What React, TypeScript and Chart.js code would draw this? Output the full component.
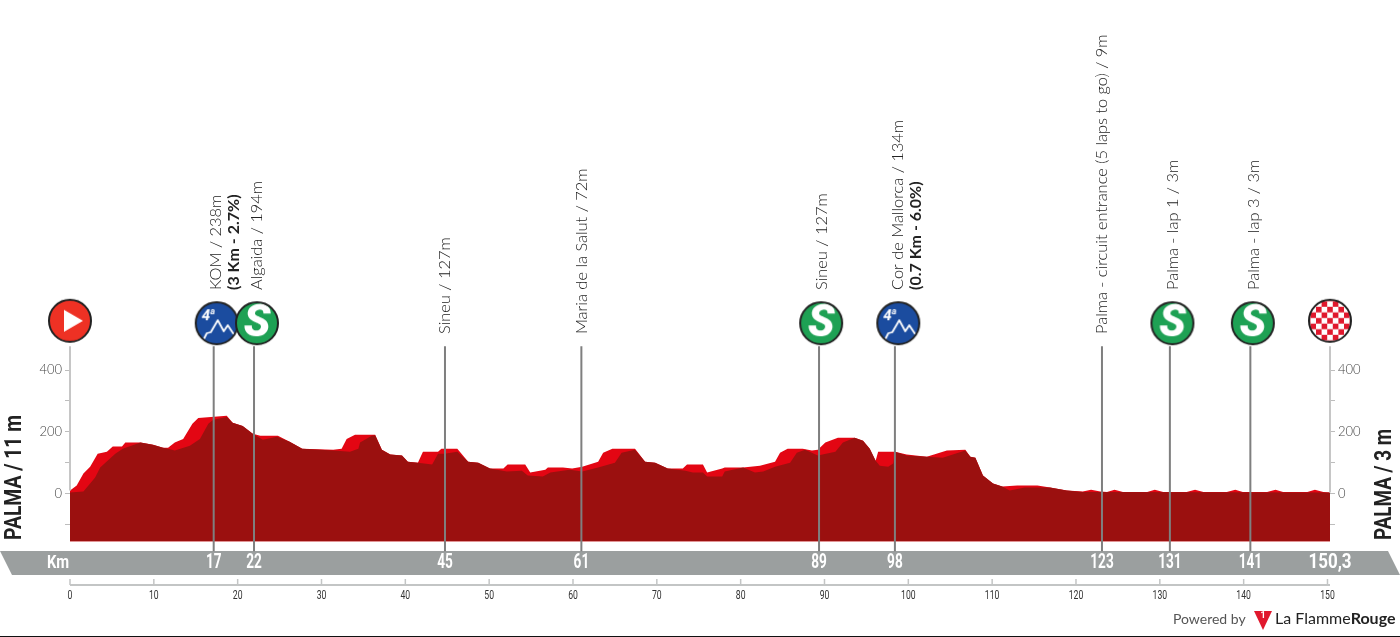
import React, { useEffect, useRef } from "react";
import { Chart, registerables } from "chart.js";

Chart.register(...registerables);

// Bright (front face) profile, km / metres
const brightKm = [0,0.8,1.6,2.4,3.3,4.4,5.1,6.2,6.6,8.4,9.9,11.1,11.7,12.5,13.5,14.6,15.3,18.7,19.4,20.6,21.8,22.7,24.8,26.2,27.7,31.4,32.4,33,34,36.4,37.2,38.2,39.6,40.3,41.5,42.1,43.9,44.3,46.2,47.5,48.7,50.1,51.7,52.2,54.3,54.9,56.7,57,58.8,59.9,61.1,63,63.6,64.7,67.4,68.6,69.8,71.3,73.1,73.6,75.5,76,77.8,78.1,80.3,82.3,84.1,84.7,85.6,87.4,88.5,89.2,90.1,91.6,93.6,94.6,95.4,96.1,96.4,98.4,99.8,102.2,104.6,106.8,107.4,108,108.9,110.1,111.2,113,115.4,116.9,118.9,120.8,121.8,122.9,123.7,124.6,125.6,128.5,129.4,130.4,133.2,134.2,135.2,138,139,139.9,142.8,143.8,144.7,147.6,148.5,149.5,150.3];
const brightM = [10,26,65,87,129,135,152,152,165,165,158,148,148,165,177,226,245,252,229,219,194,187,187,168,145,142,145,177,190,190,142,126,123,103,100,135,135,145,145,103,100,81,81,94,94,68,77,84,84,81,87,103,132,145,145,103,100,81,81,94,94,68,81,84,84,90,103,132,145,145,139,142,165,181,181,171,145,106,135,135,126,119,139,142,119,116,58,32,23,26,26,19,10,6,12,6,5,12,5,5,12,5,5,12,5,5,12,5,5,12,5,5,12,5,3];

// Dark (shadow body) profile, km / metres
const darkKm = [0,1.6,3,3.6,5.4,6.3,8.4,9.9,11.1,11.7,12.5,14.3,15.5,16.5,17.1,18.7,19.4,20.6,21.8,23,24.7,26.2,27.7,31.4,33.4,34.4,34.6,36,36.4,37.2,38.2,39.6,40.3,41.5,43.2,43.9,44.7,46.2,47.5,48.7,50.1,52.1,53.9,54.6,56.4,57.3,59.6,61.1,63,65,65.8,67.4,68.6,69.8,71.3,73.4,74.3,75.5,76,77.8,78.1,80.3,81.7,82.7,84.1,85.9,86.7,87.7,89.2,91.3,92.2,93.6,94.6,95.4,96.1,96.6,97.6,98.2,98.4,99.8,102.2,104.1,106.8,107.4,108,108.9,110.1,111.2,112.1,113.9,116.9,118.9,120.8,150.3];
const darkM = [3,6,52,84,129,145,165,158,148,145,139,155,177,226,239,248,229,219,194,174,184,168,145,139,135,145,165,187,189,142,126,123,103,100,94,129,129,135,103,100,81,71,74,58,55,68,77,71,84,100,132,142,103,100,81,74,68,68,55,55,71,84,68,71,87,100,132,142,123,135,165,181,171,145,106,90,87,97,135,123,119,116,139,119,116,58,32,23,10,19,19,10,5,3];

// Sprint / climb / waypoint poles
const poleKm = [17.14,21.95,44.73,61,89.35,98.4,123.1,131.2,140.8];
const poleLabels = ["17","22","45","61","89","98","123","131","141"];
const poleTexts = ["KOM / 238m","Algaida / 194m","Sineu / 127m","Maria de la Salut / 72m","Sineu / 127m","Cor de Mallorca / 134m","Palma - circuit entrance (5 laps to go) / 9m","Palma - lap 1 / 3m","Palma - lap 3 / 3m"];
const poleBoldTexts = ["(3 Km - 2.7%)","","","","","(0.7 Km - 6.0%)","","",""];

const iconKm = [0,17.5,22.3,89.6,98.8,131.5,141.1,150.3];
const iconM = [560,552,552,552,552,552,552,560];
const iconKinds = ["start","kom","sprint","sprint","kom","sprint","sprint","finish"];

const yTicks = [400,300,200,100,0,-100];
const yLabelled = [400,200,0];
const startName = "PALMA / 11 m";
const endName = "PALMA / 3 m";
const endKmLabel = "150,3";
const totalKm = 150.3;
const baseM = -155;
const poleTopM = 477;
const poleBottomM = -187;

const BODY = '"Lato", sans-serif';
const COND = '"Roboto", sans-serif';

function makeIcon(kind: string): HTMLCanvasElement {
  const c = document.createElement("canvas");
  c.width = 48; c.height = 48;
  const g = c.getContext("2d") as CanvasRenderingContext2D;
  const fills: Record<string,string> = { start:"#ee3124", kom:"#1b4c9f", sprint:"#1ea154", finish:"#ffffff" };
  g.beginPath(); g.arc(24,24,21,0,Math.PI*2); g.fillStyle = fills[kind]; g.fill();
  g.save(); g.beginPath(); g.arc(24,24,21,0,Math.PI*2); g.clip();
  if (kind === "finish") {
    g.fillStyle = "#e0182d";
    for (let r=0;r<9;r++) for (let q=0;q<9;q++) if ((r+q)%2===0) g.fillRect(q*5.6-1.2,r*5.6-1.2,5.6,5.6);
  }
  g.restore();
  g.fillStyle = "#fff"; g.strokeStyle = "#fff";
  if (kind === "start") {
    g.beginPath(); g.moveTo(18,13); g.lineTo(37,24); g.lineTo(18,35); g.closePath(); g.fill();
  } else if (kind === "sprint") {
    g.font = 'italic 900 44px "Roboto", sans-serif';
    g.textAlign = "center"; g.textBaseline = "middle";
    g.fillText("S",24,25.5);
  } else if (kind === "kom") {
    g.font = 'italic bold 15px "Roboto", sans-serif';
    g.textAlign = "left"; g.textBaseline = "alphabetic";
    g.fillText("4",9,21);
    g.font = 'italic bold 9px "Roboto", sans-serif';
    g.fillText("a",17.5,15);
    g.lineWidth = 1.8; g.lineJoin = "round";
    g.beginPath();
    g.moveTo(11,40); g.lineTo(14,34); g.lineTo(18,33); g.lineTo(25,21); g.lineTo(31,32); g.lineTo(35,26); g.lineTo(41,35);
    g.stroke();
  }
  g.beginPath(); g.arc(24,24,21,0,Math.PI*2); g.lineWidth = 2; g.strokeStyle = "#222"; g.stroke();
  return c;
}

function drawText(ctx: CanvasRenderingContext2D, text: string, x: number, y: number, font: string, color: string, rotate = 0, align: CanvasTextAlign = "center", sx = 1) {
  ctx.save();
  ctx.translate(x,y);
  if (rotate) ctx.rotate(rotate);
  if (sx !== 1) ctx.scale(sx,1);
  ctx.font = font; ctx.fillStyle = color; ctx.textAlign = align; ctx.textBaseline = "middle";
  ctx.fillText(text,0,0);
  ctx.restore();
}

const backdrop = {
  id: "backdrop",
  beforeDraw(chart: any) {
    const { ctx } = chart;
    ctx.save();
    ctx.fillStyle = "#fff"; ctx.fillRect(0,0,1400,637);
    ctx.fillStyle = "#9b9f9f";
    ctx.beginPath(); ctx.moveTo(0,551); ctx.lineTo(1388,551); ctx.lineTo(1400,575); ctx.lineTo(12,575); ctx.closePath(); ctx.fill();
    ctx.fillStyle = "#111"; ctx.fillRect(0,636,1400,1);
    ctx.restore();
  },
};

const annotations = {
  id: "annotations",
  afterDraw(chart: any) {
    const { ctx, scales } = chart;
    const x = scales.x;
    const y = scales.y;
    // km axis
    ctx.save();
    ctx.strokeStyle = "#c3c5c5"; ctx.lineWidth = 2;
    ctx.beginPath(); ctx.moveTo(x.left,585); ctx.lineTo(x.right,585); ctx.stroke();
    ctx.lineWidth = 1.5;
    x.ticks.forEach((_: any, i: number) => {
      const p = x.getPixelForTick(i);
      ctx.beginPath(); ctx.moveTo(p,585); ctx.lineTo(p,579); ctx.stroke();
    });
    ctx.restore();
    x.ticks.forEach((t: any, i: number) => {
      drawText(ctx,String(t.value),x.getPixelForTick(i),596,`12px ${COND}`,"#333",0,"center",0.72);
    });
    // band labels
    const bandY = y.getPixelForValue(-227);
    poleLabels.forEach((t,i) => drawText(ctx,t,x.getPixelForValue(poleKm[i]),bandY,`bold 20px ${COND}`,"#fff",0,"center",0.68));
    drawText(ctx,"Km",58,bandY,`bold 19px ${COND}`,"#fff",0,"center",0.78);
    drawText(ctx,endKmLabel,x.getPixelForValue(totalKm),bandY,`bold 20px ${COND}`,"#fff",0,"center",0.85);
    // pole captions
    poleTexts.forEach((t,i) => {
      const px = x.getPixelForValue(poleKm[i]);
      const hasIcon = i !== 2 && i !== 3 && i !== 6;
      const bottom = hasIcon ? 290 : 334;
      const bold = poleBoldTexts[i];
      const off = !hasIcon ? 0 : (bold ? 2.5 : 3);
      drawText(ctx,t,px+off,bottom,`300 16.4px ${BODY}`,"#222",-Math.PI/2,"left");
      if (bold) drawText(ctx,bold,px+off+18,bottom,`bold 16px ${BODY}`,"#222",-Math.PI/2,"left");
    });
    // start & finish names
    drawText(ctx,startName,15,540,`bold 23px ${COND}`,"#222",-Math.PI/2,"left",0.84);
    drawText(ctx,endName,1385,540,`bold 23px ${COND}`,"#222",-Math.PI/2,"left",0.82);
    // branding
    ctx.save();
    ctx.font = `14px ${BODY}`; ctx.fillStyle = "#555"; ctx.textAlign = "left"; ctx.textBaseline = "middle";
    ctx.fillText("Powered by",1173,619);
    ctx.fillStyle = "#e0182d";
    ctx.beginPath(); ctx.moveTo(1254,611); ctx.lineTo(1272,611); ctx.lineTo(1263,630); ctx.closePath(); ctx.fill();
    ctx.fillStyle = "#fff"; ctx.font = 'bold 9px "Roboto", sans-serif'; ctx.textAlign = "center";
    ctx.fillText("1",1263,616);
    ctx.textAlign = "left"; ctx.fillStyle = "#222"; ctx.font = `16px ${BODY}`;
    ctx.fillText("La Flamme",1275,619);
    const w = ctx.measureText("La Flamme").width;
    ctx.font = `bold 16px ${BODY}`;
    ctx.fillText("Rouge",1275+w,619);
    ctx.restore();
  },
};

function pairs(xs: number[], ys: number[]) {
  return xs.map((v,i) => ({ x:v, y:ys[i] }));
}

export default function App() {
  const ref = useRef<HTMLCanvasElement | null>(null);
  useEffect(() => {
    if (!ref.current) return;
    const poleSets = poleKm.map((k) => ({
      data: [{ x:k, y:poleTopM },{ x:k, y:poleBottomM }],
      borderColor: "#7f7f7f", borderWidth: 2, pointRadius: 0, fill: false, order: 1,
    }));
    const edgeSets = [0,totalKm].map((k,i) => ({
      data: [{ x:k, y:poleTopM },{ x:k, y:i ? 3 : 10 }],
      borderColor: "#c6c6c6", borderWidth: 2, pointRadius: 0, fill: false, order: 1, clip: false,
    }));
    const sharedY = {
      min: (493-585)/0.31, max: 493/0.31,
      afterBuildTicks(s: any) { s.ticks = yTicks.map((value) => ({ value })); },
      afterFit(s: any) { s.width = 70; },
      border: { display: false },
      grid: { drawOnChartArea: false, tickLength: 5, color: "#bdbdbd", lineWidth: 1 },
      ticks: {
        padding: 3, autoSkip: false, color: "#444",
        font: { family: "Lato, sans-serif", size: 13, weight: "300", lineHeight: 0 },
        callback: (v: any) => (yLabelled.includes(Number(v)) ? String(v) : ""),
      },
    };
    const chart = new Chart(ref.current, {
      type: "line",
      data: {
        datasets: [
          ...poleSets, ...edgeSets,
          { data: pairs(iconKm,iconM), showLine: false, pointStyle: iconKinds.map(makeIcon) as any, pointRadius: 24, order: 0, clip: false },
          { data: pairs(darkKm,darkM), borderColor: "#9b100f", borderWidth: 0, pointRadius: 0, tension: 0, fill: { value: baseM }, backgroundColor: "#9b100f", order: 5 },
          { data: pairs(brightKm,brightM), borderColor: "#e30613", borderWidth: 0, pointRadius: 0, tension: 0, fill: { value: baseM }, backgroundColor: "#e30613", order: 6 },
        ] as any,
      },
      options: {
        animation: false, responsive: false, maintainAspectRatio: false,
        layout: { padding: 0, autoPadding: false },
        plugins: { legend: { display: false }, tooltip: { enabled: false } },
        scales: {
          x: {
            type: "linear", min: 0, max: totalKm,
            afterFit(s: any) { s.height = 52; },
            border: { display: false },
            grid: { display: false, drawTicks: false },
            ticks: { display: false, stepSize: 10, includeBounds: false, autoSkip: false, maxRotation: 0 },
          },
          y: { ...sharedY, position: "left" },
          y2: { ...sharedY, position: "right" },
        },
      } as any,
      plugins: [backdrop, annotations],
    });
    return () => chart.destroy();
  }, []);
  return (
    <div style={{ position: "fixed", left: 0, top: 0, width: 1400, height: 637 }}>
      <canvas ref={ref} width={1400} height={637} style={{ display: "block" }} />
    </div>
  );
}
